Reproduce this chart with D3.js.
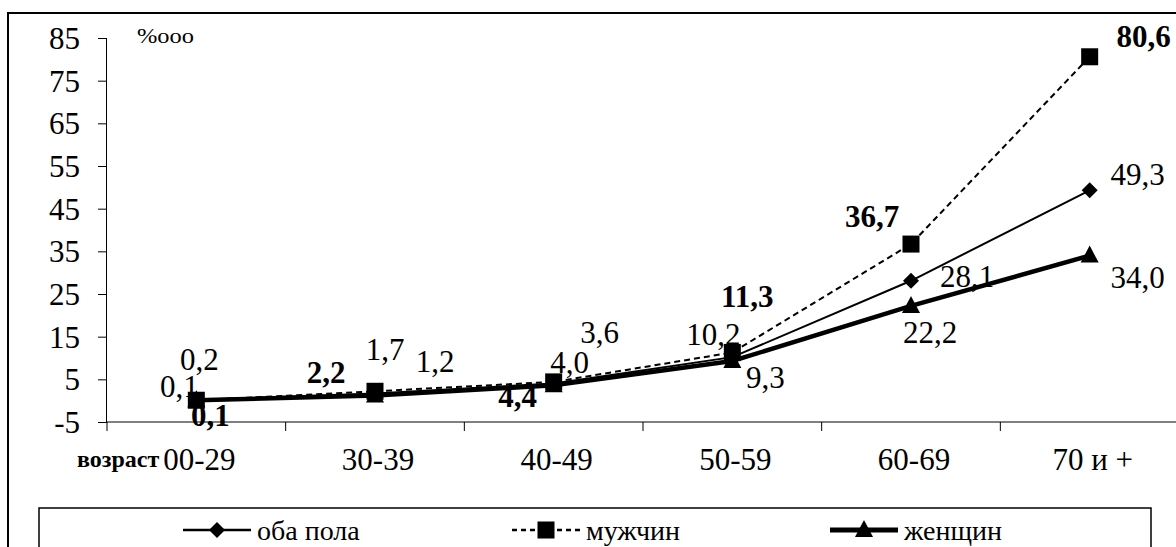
<!DOCTYPE html>
<html>
<head>
<meta charset="utf-8">
<script src="https://cdn.jsdelivr.net/npm/d3@7"></script>
<style>
  body { margin: 0; background: #fff; }
</style>
</head>
<body>
<div id="chart"></div>
<script>
// данные
const categories = ["00-29", "30-39", "40-49", "50-59", "60-69", "70 и +"];
const seriesNames = ["оба пола", "мужчин", "женщин"];
const both = [0.2, 1.7, 4.0, 10.2, 28.1, 49.3];
const men = [0.1, 2.2, 4.4, 11.3, 36.7, 80.6];
const women = [0.1, 1.2, 3.6, 9.3, 22.2, 34.0];
const yTicks = [-5, 5, 15, 25, 35, 45, 55, 65, 75, 85];

// смещения подписей (центр текста относительно точки)
const labelOffsets = {
  both:  [[3, -40], [10, -43], [16, -21], [-19, -22], [56, -4], [48, -15]],
  men:   [[14, 16], [-49, -18], [-36, 15], [15, -55], [-39, -27], [54, -20]],
  women: [[-17, -13], [60, -34], [46, -52], [33, 17], [19, 27], [48, 22]]
};

const FONT = "'Liberation Serif', 'Times New Roman', serif";
const W = 1176, H = 547;
const plot = { left: 107, right: 1179, top: 38, bottom: 422 };

const svg = d3.select("#chart").append("svg")
  .attr("width", W).attr("height", H);

// рамка
svg.append("rect")
  .attr("x", 8).attr("y", 13)
  .attr("width", W + 20).attr("height", H + 20)
  .attr("fill", "none").attr("stroke", "#000").attr("stroke-width", 2);

const x = d3.scaleBand().domain(categories).range([plot.left, plot.right]);
const y = d3.scaleLinear().domain([-5, 85]).range([plot.bottom, plot.top]);

// ось Y
const yAxis = svg.append("g")
  .attr("transform", `translate(${plot.left},0)`)
  .call(d3.axisLeft(y).tickValues(yTicks).tickSize(9).tickPadding(18).tickFormat(d => d));
yAxis.select(".domain").attr("stroke", "#000").attr("d", `M-0.5,${plot.top}V${plot.bottom}`);
yAxis.selectAll("text").attr("font-size", 31).attr("fill", "#000").attr("dy", "0.34em").style("font-family", FONT);
yAxis.selectAll("line").attr("stroke", "#000");

// ось X (на уровне -5)
const xAxisG = svg.append("g").attr("transform", `translate(0,${plot.bottom})`);
xAxisG.append("line")
  .attr("x1", plot.left).attr("x2", plot.right)
  .attr("stroke", "#000");
const bounds = categories.map(c => x(c)).concat([plot.right]);
xAxisG.selectAll(".tk").data(bounds).enter().append("line")
  .attr("x1", d => d).attr("x2", d => d).attr("y1", 0).attr("y2", 9)
  .attr("stroke", "#000");
xAxisG.selectAll(".cat").data(categories).enter().append("text")
  .attr("x", d => x(d) + x.bandwidth() / 2 + 3)
  .attr("y", 48)
  .attr("text-anchor", "middle")
  .attr("font-size", 31)
  .style("font-family", FONT)
  .text(d => d);

svg.append("text")
  .attr("x", 77).attr("y", 467)
  .attr("font-size", 24).attr("font-weight", "bold")
  .style("font-family", FONT)
  .text("возраст");

svg.append("text")
  .attr("x", 137).attr("y", 43)
  .attr("font-size", 22)
  .attr("textLength", 57).attr("lengthAdjust", "spacingAndGlyphs")
  .style("font-family", FONT)
  .text("%ooo");

const cx = c => x(c) + x.bandwidth() / 2;
const line = d3.line().x((d, i) => cx(categories[i])).y(d => y(d));

const series = [
  { key: "both", values: both, width: 2, dash: null, marker: "diamond", bold: false },
  { key: "men", values: men, width: 2, dash: "6,4", marker: "square", bold: true },
  { key: "women", values: women, width: 4.5, dash: null, marker: "triangle", bold: false }
];

function drawMarker(g, type, px, py) {
  if (type === "square") {
    g.append("rect").attr("x", px - 8.5).attr("y", py - 8.5).attr("width", 17).attr("height", 17).attr("fill", "#000");
  } else if (type === "diamond") {
    g.append("path").attr("d", `M${px},${py - 8}L${px + 8},${py}L${px},${py + 8}L${px - 8},${py}Z`).attr("fill", "#000");
  } else {
    g.append("path").attr("d", `M${px},${py - 10}L${px + 9},${py + 7}L${px - 9},${py + 7}Z`).attr("fill", "#000");
  }
}

// линии
["men", "both", "women"].forEach(k => {
  const s = series.find(s => s.key === k);
  svg.append("path")
    .datum(s.values)
    .attr("d", line)
    .attr("fill", "none")
    .attr("stroke", "#000")
    .attr("stroke-width", s.width)
    .attr("stroke-dasharray", s.dash);
});

// маркеры
["men", "both", "women"].forEach(k => {
  const s = series.find(s => s.key === k);
  const g = svg.append("g");
  s.values.forEach((v, i) => drawMarker(g, s.marker, cx(categories[i]), y(v)));
});

// подписи значений
series.forEach(s => {
  svg.append("g").selectAll("text").data(s.values).enter().append("text")
    .attr("x", (d, i) => cx(categories[i]) + labelOffsets[s.key][i][0])
    .attr("y", (d, i) => y(d) + labelOffsets[s.key][i][1] + 10)
    .attr("text-anchor", "middle")
    .attr("font-size", 31)
    .attr("font-weight", s.bold ? "bold" : "normal")
    .style("font-family", FONT)
    .text(d => d3.format(".1f")(d).replace(".", ","));
});

// легенда
svg.append("rect")
  .attr("x", 39).attr("y", 508).attr("width", 1112).attr("height", 80)
  .attr("fill", "#fff").attr("stroke", "#000").attr("stroke-width", 1.5);

const legendX = [183, 512, 830];
series.forEach((s, i) => {
  const g = svg.append("g");
  const ly = 530;
  g.append("line")
    .attr("x1", legendX[i]).attr("x2", legendX[i] + 68)
    .attr("y1", ly).attr("y2", ly)
    .attr("stroke", "#000").attr("stroke-width", s.key === "women" ? 5 : 2.5)
    .attr("stroke-dasharray", s.dash ? "5,4" : null);
  drawMarker(g, s.marker, legendX[i] + 34, ly);
  g.append("text")
    .attr("x", legendX[i] + 74).attr("y", ly + 10)
    .attr("font-size", 28)
    .style("font-family", FONT)
    .text(seriesNames[i]);
});
</script>
</body>
</html>
